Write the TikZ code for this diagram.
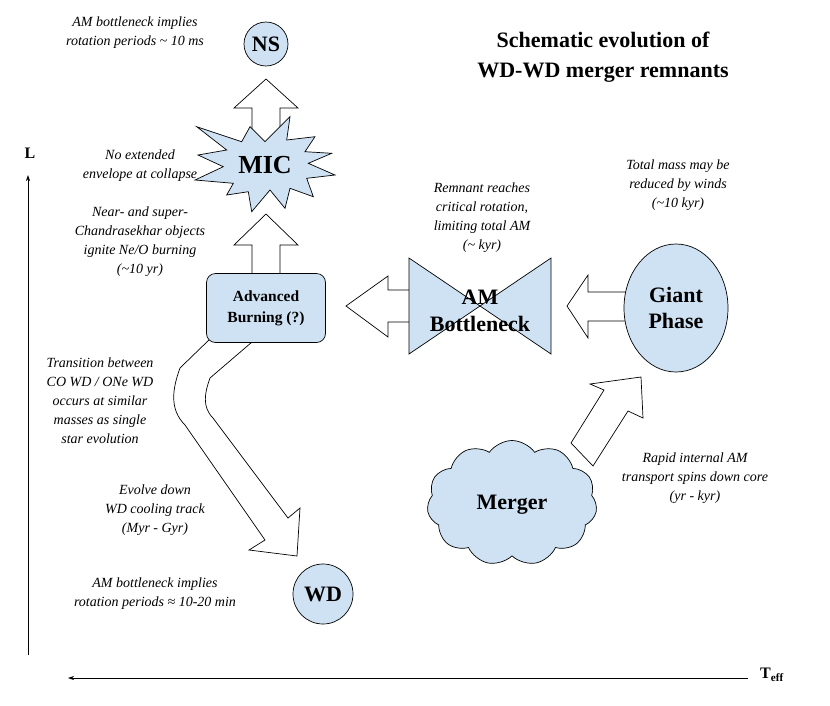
\documentclass[tikz,border=0pt]{standalone}
\usepackage{fontspec}
\setmainfont{Liberation Serif}
\usetikzlibrary{shapes.symbols,shapes.geometric,arrows.meta}
\definecolor{lb}{HTML}{CFE2F3}
\begin{document}
\begin{tikzpicture}[x=1pt,y=-1pt,
  shp/.style={draw,fill=lb,line width=0.7pt},
  fat/.style={draw,fill=white,line width=0.7pt,line join=miter},
  note/.style={font=\fontsize{14}{19}\selectfont\itshape,align=center},
  big/.style={font=\fontsize{22}{26}\selectfont\bfseries,align=center},
  axis/.style={-{Stealth[length=6pt,width=4pt]},line width=0.6pt}]
\useasboundingbox (0,0) rectangle (830,705);
% axes
\coordinate (ya) at (28,655); \coordinate (yb) at (28,175);
\coordinate (xa) at (748,678); \coordinate (xb) at (68,678);
\draw[axis] (ya) -- (yb);
\draw[axis] (xa) -- (xb);
\node[font=\fontsize{16}{18}\selectfont\bfseries] (L) at (30,153) {L};
\node[font=\fontsize{16}{18}\selectfont\bfseries] (T) at (772,675) {T\textsubscript{eff}};
% title
\node[font=\fontsize{22}{30}\selectfont\bfseries,align=center] (title) at (603,57) {Schematic evolution of\\WD-WD merger remnants};
% fat arrows
\draw[fat] (252,140) -- (252,108) -- (234,108) -- (266,79) -- (298,108) -- (280,108) -- (280,140);
\draw[fat] (252,275) -- (252,245) -- (234,245) -- (266,214) -- (298,245) -- (280,245) -- (280,275) -- cycle;
\draw[fat] (410,290) -- (388,290) -- (388,276) -- (346,306) -- (388,337) -- (388,322) -- (410,322) -- cycle;
\draw[fat] (630,292) -- (588,292) -- (588,275) -- (567,306) -- (588,338) -- (588,321) -- (630,321) -- cycle;
\draw[fat] (571,443) -- (604,390) -- (590,384) -- (641,377) -- (643,418) -- (628,411) -- (593,466) -- cycle;
% curved arrow
\draw[fat] (211,338) -- (180,368) to[out=-110,in=135] (185,425) -- (265,540) -- (249,550) -- (297,556) -- (300,508) -- (288,518) -- (213,418) to[out=135,in=-110] (210,378) -- (252,342) -- cycle;
% nodes
\node[shp,circle,minimum size=44pt,inner sep=0pt,big] (NS) at (266,44) {NS};
\node[shp,circle,minimum size=60pt,inner sep=0pt,big] (WD) at (323,594) {WD};
\node[shp,rounded corners=9pt,minimum width=119pt,minimum height=69pt,align=center,font=\fontsize{15.5}{21}\selectfont\bfseries] (AB) at (266,308) {Advanced\\Burning (?)};
\node[shp,ellipse,minimum width=104pt,minimum height=128pt,inner sep=0pt,big] (GP) at (676,308) {Giant\\Phase};
\draw[shp] (409,258) -- (480,306) -- (551,258) -- (551,354) -- (480,306) -- (409,354) -- cycle;
\node[big,font=\fontsize{22}{27}\selectfont\bfseries] (AM) at (480,311) {AM\\Bottleneck};
\draw[shp,line join=miter] (196.7,126.7) -- (241.7,141.7) -- (250,126.7) -- (265,141.7) -- (290,116.7) -- (286.7,140) -- (315,136.7) -- (305,151.7) -- (331.7,153.3) -- (308.3,163.3) -- (335,175) -- (306.7,178.3) -- (313.3,196.7) -- (290,188.3) -- (285,208.3) -- (270,190) -- (251.7,211.7) -- (248.3,191.7) -- (226.7,195) -- (233.3,183.3) -- (195,180) -- (223.3,166.7) -- (198,155) -- (226.7,150) -- cycle;
\node[big,font=\fontsize{26}{28}\selectfont\bfseries] (MIC) at (265,165) {MIC};
\node[shp,cloud,cloud puffs=11,cloud puff arc=110,aspect=1.4,minimum width=170pt,minimum height=125pt,inner sep=0pt] (M) at (512,503) {};
\node[big] (Mt) at (512,505) {Merger};
% notes
\node[note] (n1) at (135,33) {AM bottleneck implies\\rotation periods \textasciitilde{} 10 ms};
\node[note] (n2) at (140,166) {No extended\\envelope at collapse};
\node[note] (n3) at (140,242) {Near- and super-\\Chandrasekhar objects\\ignite Ne/O burning\\(\textasciitilde10 yr)};
\node[note] (n4) at (482,218) {Remnant reaches\\critical rotation,\\limiting total AM\\(\textasciitilde{} kyr)};
\node[note] (n5) at (678,185) {Total mass may be\\reduced by winds\\(\textasciitilde10 kyr)};
\node[note] (n6) at (100,401) {Transition between\\CO WD / ONe WD\\occurs at similar\\masses as single\\star evolution};
\node[note] (n7) at (155,510) {Evolve down\\WD cooling track\\(Myr - Gyr)};
\node[note] (n8) at (155,594) {AM bottleneck implies\\rotation periods ≈ 10-20 min};
\node[note] (n9) at (695,478) {Rapid internal AM\\transport spins down core\\(yr - kyr)};
\end{tikzpicture}
\end{document}
